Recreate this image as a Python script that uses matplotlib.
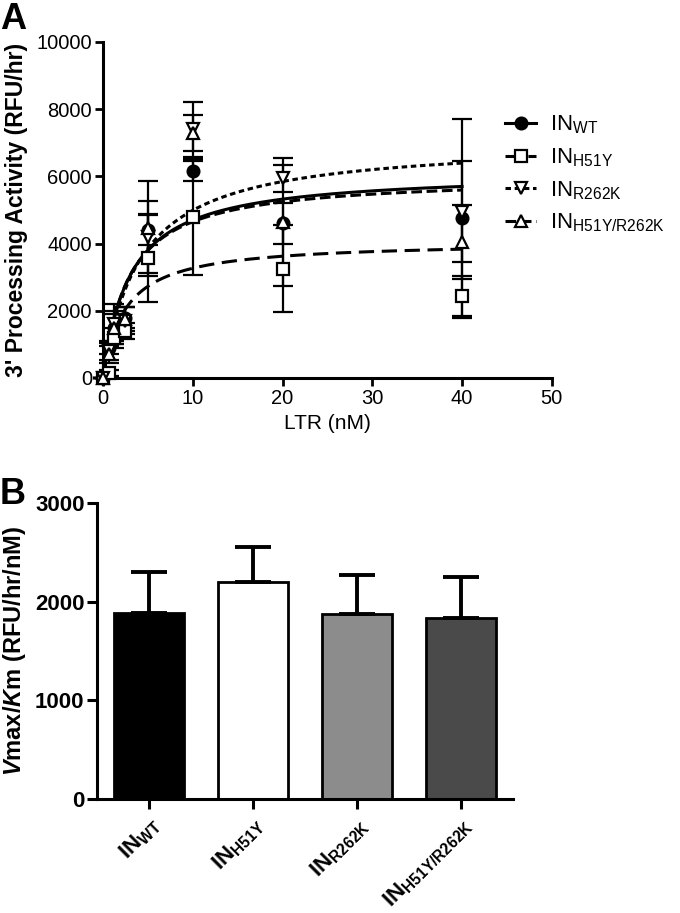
import numpy as np
import matplotlib.pyplot as plt
from matplotlib.lines import Line2D

plt.rcParams['font.family'] = 'Liberation Sans'
plt.rcParams['mathtext.fontset'] = 'custom'
plt.rcParams['mathtext.rm'] = 'Liberation Sans'
plt.rcParams['mathtext.it'] = 'Liberation Sans:italic'
plt.rcParams['mathtext.bf'] = 'Liberation Sans:bold'
plt.rcParams['mathtext.bfit'] = 'Liberation Sans:italic:bold'

# Panel A data: LTR titration (nM) vs 3' processing activity (RFU/hr)
ltr = [0, 0.625, 1.25, 2.5, 5, 10, 20, 40]
wt = [0, 900, 1500, 1800, 4400, 6150, 4600, 4750]
wt_err = [0, 200, 400, 300, 450, 300, 600, 2950]
h51y = [0, 150, 1200, 1400, 3560, 4800, 3250, 2450]
h51y_err = [0, 100, 300, 250, 1310, 1730, 1300, 600]
r262k = [0, 800, 1600, 1700, 4200, 7400, 5950, 4950]
r262k_err = [0, 250, 600, 400, 1080, 820, 400, 1500]
dbl = [0, 700, 1500, 1750, 4450, 7300, 4650, 4050]
dbl_err = [0, 250, 500, 350, 1420, 540, 1900, 1100]

# Michaelis-Menten fit parameters
vmax = [6135, 4070, 7060, 6000]
km = [3.05, 2.46, 4.15, 2.9]

# Panel B data: Vmax/Km
bar_labels = [r'IN$_{\mathbf{WT}}$', r'IN$_{\mathbf{H51Y}}$',
              r'IN$_{\mathbf{R262K}}$', r'IN$_{\mathbf{H51Y/R262K}}$']
eff = [1890, 2200, 1880, 1835]
eff_err = [410, 360, 390, 420]
bar_colors = ['black', 'white', '#8c8c8c', '#4a4a4a']

leg_labels = [r'IN$_{\mathrm{WT}}$', r'IN$_{\mathrm{H51Y}}$',
              r'IN$_{\mathrm{R262K}}$', r'IN$_{\mathrm{H51Y/R262K}}$']
markers = ['o', 's', 'v', '^']
faces = ['black', 'white', 'white', 'white']
styles = ['-', (0, (5, 2.5)), (0, (1.8, 1.2)), (0, (3.5, 1.5))]

fig = plt.figure(figsize=(6.8, 9.13), dpi=100)

# ---- Panel A ----
ax = fig.add_axes([0.1515, 0.586, 0.660, 0.368])
x_fit = np.linspace(0, 40, 300)
series = [(wt, wt_err), (h51y, h51y_err), (r262k, r262k_err), (dbl, dbl_err)]
for i, (y, e) in enumerate(series):
    ax.plot(x_fit, vmax[i] * x_fit / (km[i] + x_fit), color='black', lw=2.2,
            linestyle=styles[i], zorder=2, clip_on=False)
    ax.errorbar(ltr, y, yerr=e, fmt=markers[i], color='black', mfc=faces[i],
                mec='black', mew=1.6, ms=8.5, elinewidth=1.6, capsize=7,
                capthick=1.6, zorder=3, clip_on=False)

ax.set_xlim(0, 50)
ax.set_ylim(0, 10000)
ax.set_xticks(range(0, 51, 10))
ax.set_yticks(range(0, 10001, 2000))
ax.tick_params(width=2, length=6, labelsize=14.5, pad=2, direction='out')
for s in ['top', 'right']:
    ax.spines[s].set_visible(False)
for s in ['left', 'bottom']:
    ax.spines[s].set_linewidth(2.2)
ax.set_xlabel('LTR (nM)', fontsize=15)
ax.set_ylabel("3' Processing Activity (RFU/hr)", fontsize=16.5,
              fontweight='bold', labelpad=6)

handles = [Line2D([], [], color='black', lw=2.2, linestyle=styles[i],
                  marker=markers[i], mfc=faces[i], mec='black', mew=1.6, ms=8.5)
           for i in range(4)]
fig.legend(handles, leg_labels, loc='upper left', bbox_to_anchor=(0.73, 0.885),
           frameon=False, fontsize=16, handlelength=1.4, labelspacing=0.45,
           handletextpad=0.6, borderaxespad=0)

fig.text(0.0, 0.998, 'A', fontsize=26, fontweight='bold', va='top')

# ---- Panel B ----
bx = fig.add_axes([0.1426, 0.1249, 0.612, 0.324])
pos = np.arange(len(eff))
bx.bar(pos, eff, width=0.68, color=bar_colors, edgecolor='black', linewidth=2,
       yerr=[np.zeros(len(eff)), eff_err], capsize=13,
       error_kw=dict(elinewidth=2.8, capthick=2.8, ecolor='black'), zorder=2)
bx.set_xlim(-0.5, 3.5)
bx.set_ylim(0, 3000)
bx.set_yticks([0, 1000, 2000, 3000])
bx.set_xticks(pos)
bx.set_xticklabels(bar_labels, rotation=45, ha='right', rotation_mode='anchor',
                   fontsize=16, fontweight='bold')
bx.tick_params(width=2.2, length=7, labelsize=16, pad=2, direction='out')
bx.tick_params(axis='x', labelsize=16, pad=4)
for lab in bx.get_yticklabels():
    lab.set_fontweight('bold')
for s in ['top', 'right']:
    bx.spines[s].set_visible(False)
for s in ['left', 'bottom']:
    bx.spines[s].set_linewidth(2.2)
bx.set_ylabel(r'$\mathbfit{V}$max/$\mathbfit{K}$m (RFU/hr/nM)', fontsize=17,
              fontweight='bold', labelpad=5)

fig.text(0.0, 0.477, 'B', fontsize=26, fontweight='bold', va='top')

fig.savefig('out.png', dpi=100)
